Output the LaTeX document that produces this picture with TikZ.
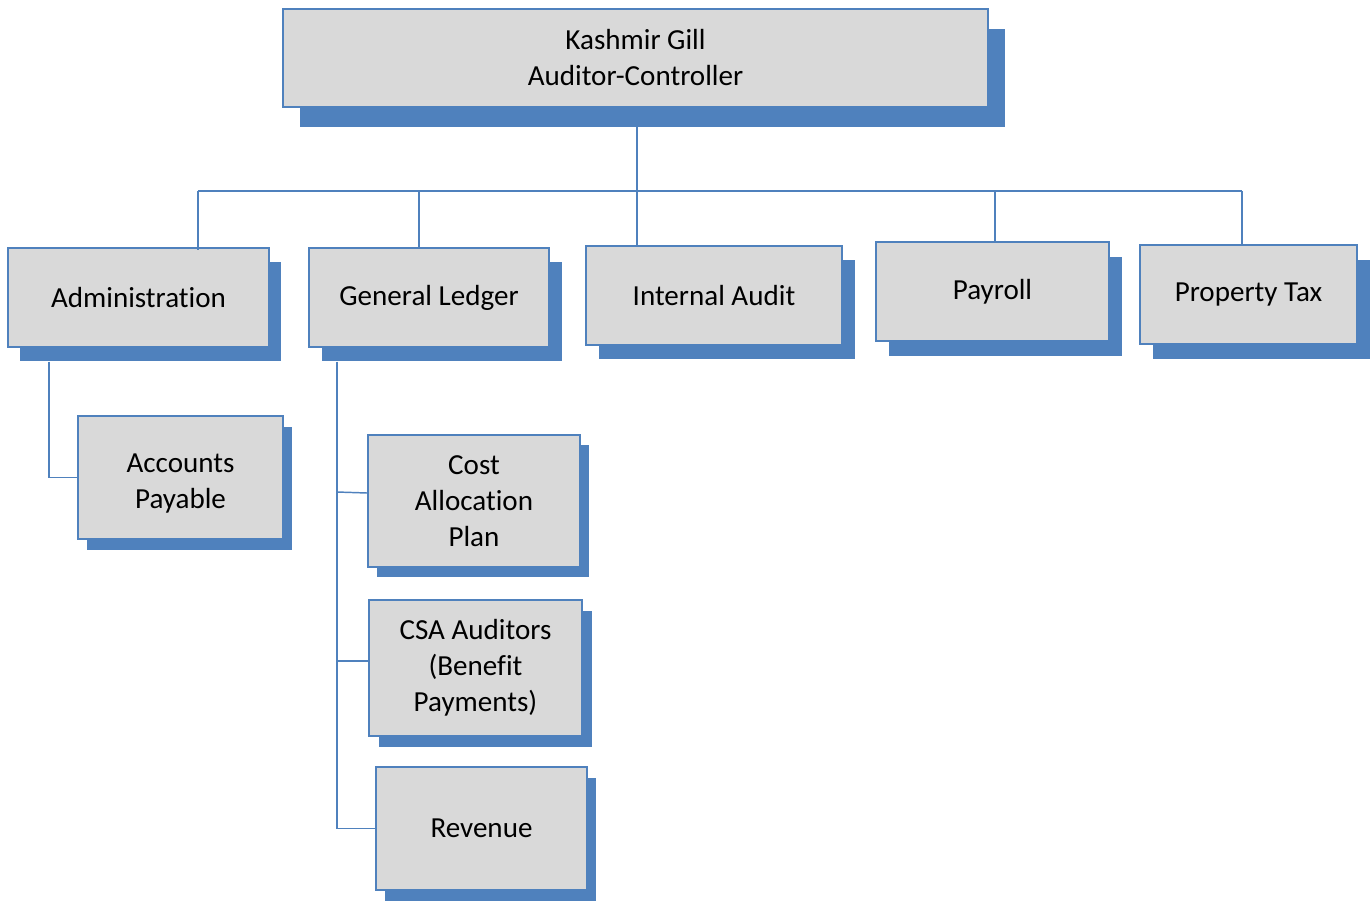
\documentclass[tikz,border=0pt]{standalone}
\usepackage{fontspec}
\setmainfont{Carlito}[Ligatures={NoCommon}]
\usetikzlibrary{shadows,calc}
\definecolor{bb}{HTML}{4F81BD}
\definecolor{gf}{HTML}{D9D9D9}
\tikzset{
  box/.style={draw=bb, fill=gf, line width=1.1pt, align=center, inner sep=0pt,
    font=\fontsize{21.8}{27}\selectfont},
  shad/.style 2 args={general shadow={fill=bb, shadow xshift=#1, shadow yshift=#2}},
  conn/.style={draw=bb, line width=1.1pt}
}
\begin{document}
\begin{tikzpicture}[x=0.75pt,y=-0.75pt]
\useasboundingbox (0,0) rectangle (1372,901);
\node[box, shad={12.75pt}{-15pt}, minimum width=528.75pt, minimum height=73.5pt] (top) at (635.5,58) {Kashmir Gill\\Auditor-Controller};
\node[box, shad={9pt}{-10.5pt}, minimum width=195.75pt, minimum height=74.25pt] (admin) at (138.5,297.5) {Administration};
\node[box, shad={9.75pt}{-10.5pt}, minimum width=180pt, minimum height=74.25pt] (gl) at (429,297.5) {General Ledger};
\node[box, shad={9.75pt}{-10.5pt}, minimum width=192pt, minimum height=74.25pt] (ia) at (714,295.5) {Internal Audit};
\node[box, shad={9.75pt}{-11.25pt}, minimum width=174.75pt, minimum height=74.25pt] (pay) at (992.5,291.5) {Payroll};
\node[box, shad={9.75pt}{-11.25pt}, minimum width=162.75pt, minimum height=74.25pt] (pt) at (1248.5,294.5) {Property Tax};
\node[box, shad={6.75pt}{-8.25pt}, minimum width=153.75pt, minimum height=92.25pt, text depth=0pt] (ap) at (180.5,477.5) {\strut Accounts\\Payable};
\node[box, shad={6.75pt}{-7.5pt}, minimum width=159pt, minimum height=99pt] (cap) at (474,501) {Cost\\Allocation\\Plan};
\node[box, shad={7.5pt}{-8.25pt}, minimum width=159.75pt, minimum height=102pt] (csa) at (475.5,668) {CSA Auditors\\(Benefit\\Payments)};
\node[box, shad={6.75pt}{-8.25pt}, minimum width=158.25pt, minimum height=92.25pt] (rev) at (481.5,828.5) {Revenue};

\coordinate (bus) at (637,191);
\coordinate (d1) at (198,191);
\coordinate (d2) at (419,191);
\coordinate (d4) at (995,191);
\coordinate (d5) at (1242,191);
\coordinate (ax) at (49,0);
\coordinate (gx) at (337,0);

\draw[conn] (top.south -| bus) -- (bus);
\draw[conn] (d1) -- (d5);
\draw[conn] (d1) -- ($(d1 |- admin.north)+(0,3)$);
\draw[conn] (d2) -- (d2 |- gl.north);
\draw[conn] (bus) -- (bus |- ia.north);
\draw[conn] (d4) -- (d4 |- pay.north);
\draw[conn] (d5) -- (d5 |- pt.north);
\draw[conn] ($(admin.south -| ax)+(0,14)$) |- (ap.west);
\draw[conn] ($(gl.south -| gx)+(0,14)$) |- (rev.west);
\draw[conn] ($(cap.west -| gx)+(0,-9)$) -- ($(cap.west)+(0,-8)$);
\draw[conn] ($(csa.west -| gx)+(0,-7)$) -- ($(csa.west)+(0,-7)$);
\end{tikzpicture}
\end{document}
